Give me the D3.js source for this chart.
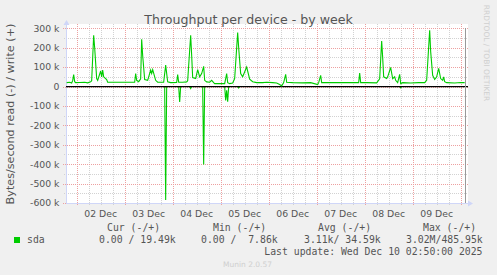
<!DOCTYPE html>
<html>
<head>
<meta charset="utf-8">
<script src="https://cdn.jsdelivr.net/npm/d3@7"></script>
<style>
  html, body { margin: 0; padding: 0; background: #f0f0f0; }
  svg { display: block; }
</style>
</head>
<body>
<div id="chart"></div>
<script>
// hours since 2025-12-01 19:00 UTC, values in kB/s
const writeHours = [0, 1.5, 2.5, 3, 3.5, 4, 4.5, 6.5, 9, 10.5, 12, 12.5, 13.5, 14, 15, 15.5, 17, 17.5, 18, 18.5,
  20, 20.5, 23.5, 28, 34, 34.5, 35, 36, 37, 37.5, 38, 39, 40.5, 42, 42.5, 43, 44.5, 45.5, 48.5, 49.5,
  50.5, 52, 55, 55.5, 56, 58, 60, 60.5, 62, 62.5, 63, 64.5, 65.5, 66.5, 67.5, 68.5, 69, 70, 71.5, 72.5,
  73.5, 74, 79, 80, 80.5, 81.5, 83, 84, 85.5, 86, 87, 88, 90, 91.5, 93, 95, 98, 100, 103, 105,
  106.5, 107.5, 108.5, 109.5, 110, 113, 118, 122, 125.5, 126, 127, 127.5, 131, 135, 140, 146, 146.5, 147, 150, 155,
  156.5, 157.5, 158, 158.5, 160, 160.5, 162, 163, 164, 164.5, 165.5, 166.5, 167, 168, 172, 176, 179, 180, 181.5, 182,
  183, 184, 185, 186, 187, 188, 188.5, 189, 190, 194, 197, 199];
const writeKB = [20, 22, 18, 30, 62, 25, 20, 21, 22, 19, 24, 30, 264, 200, 41, 32, 80, 50, 85, 50,
  36, 22, 22, 22, 22, 67, 32, 25, 40, 244, 160, 36, 32, 85, 67, 87, 32, 22, 22, 110,
  24, 20, 21, 62, 22, 22, 24, 30, 264, 160, 46, 41, 87, 50, 67, 104, 32, 24, 22, 32,
  20, 15, 15, 67, 20, 15, 18, 41, 278, 200, 67, 50, 100, 38, 25, 20, 20, 22, 20, 18,
  10, 3, 20, 63, 22, 20, 19, 20, 10, 20, 58, 20, 20, 20, 21, 20, 70, 20, 20, 19,
  40, 235, 150, 50, 41, 50, 98, 41, 50, 32, 20, 63, 15, 20, 18, 20, 20, 32, 290, 180,
  58, 36, 50, 93, 41, 32, 50, 25, 20, 18, 21, 20];

const readHours = [0, 49, 49.5, 50, 56, 56.5, 57, 61.5, 62, 62.5, 68, 68.5, 69, 79, 79.5, 80, 80.5, 81,
  85.5, 86, 86.5, 166.5, 167, 167.5, 199];
const readKB = [0, 0, -585, 0, 0, -79, 0, 0, -10, 0, 0, -401, 0, 0, -72, -20, -78, 0,
  0, -8, 0, 0, -7, 0, 0];

const yTicks = [300, 200, 100, 0, -100, -200, -300, -400, -500, -600];
const dayLabels = ["02 Dec", "03 Dec", "04 Dec", "05 Dec", "06 Dec", "07 Dec", "08 Dec", "09 Dec"];
const legendHeads = ["Cur (-/+)", "Min (-/+)", "Avg (-/+)", "Max (-/+)"];
const legendVals = ["0.00 / 19.49k", "0.00 /  7.86k", "3.11k/ 34.59k", "3.02M/485.95k"];

const W = 497, H = 275;
const sans = "'DejaVu Sans', sans-serif";
const mono = "'DejaVu Sans Mono', monospace";
const t0 = Date.UTC(2025, 11, 1, 19, 0);
const hr = 3600 * 1000;

const x = d3.scaleUtc()
  .domain([new Date(Date.UTC(2025, 11, 1, 18, 40)), new Date(Date.UTC(2025, 11, 10, 3, 40))])
  .range([66, 468]);
const y = d3.scaleLinear().domain([-600, 300]).range([203, 28.3]);

const svg = d3.select("#chart").append("svg")
  .attr("width", W).attr("height", H)
  .style("background", "#f0f0f0");

// canvas
svg.append("rect").attr("x", 66).attr("y", 24).attr("width", 402).attr("height", 179).attr("fill", "#fff");

const grid = svg.append("g").attr("shape-rendering", "crispEdges");
const [d0, d1] = x.domain();

// minor grid
d3.utcHour.every(6).range(d0, d1).forEach(t => {
  if (t.getUTCHours() === 0) return;
  const px = Math.round(x(t)) + 0.5;
  grid.append("line").attr("x1", px).attr("x2", px).attr("y1", 24).attr("y2", 205)
    .attr("stroke", "#d2d2d2").attr("stroke-dasharray", "1,1");
});
d3.range(-550, 300, 100).forEach(v => {
  const py = Math.round(y(v)) + 0.5;
  grid.append("line").attr("x1", 64).attr("x2", 468).attr("y1", py).attr("y2", py)
    .attr("stroke", "#d2d2d2").attr("stroke-dasharray", "1,1");
});
// major grid
d3.utcDay.range(d0, d1).forEach(t => {
  const px = Math.round(x(t)) + 0.5;
  grid.append("line").attr("x1", px).attr("x2", px).attr("y1", 24).attr("y2", 206)
    .attr("stroke", "#eda0a0").attr("stroke-dasharray", "1,1");
});
yTicks.forEach(v => {
  const py = Math.round(y(v)) + 0.5;
  grid.append("line").attr("x1", 63).attr("x2", 468).attr("y1", py).attr("y2", py)
    .attr("stroke", "#eda0a0").attr("stroke-dasharray", "1,1");
});

// axes
const axisCol = "#cfd6f8";
grid.append("line").attr("x1", 66.5).attr("x2", 66.5).attr("y1", 203).attr("y2", 24).attr("stroke", axisCol);
grid.append("line").attr("x1", 66).attr("x2", 469).attr("y1", 203.5).attr("y2", 203.5).attr("stroke", axisCol);
svg.append("path").attr("d", "M63.5,25L69.5,25L66.5,20Z").attr("fill", axisCol);
svg.append("path").attr("d", "M468,200.5L468,206.5L473,203.5Z").attr("fill", axisCol);

// data lines
const line = d3.line().x(d => x(new Date(t0 + d[0] * hr))).y(d => y(d[1]));
const readPts = readHours.map((h, i) => [h, readKB[i]]);
const writePts = writeHours.map((h, i) => [h, writeKB[i]]);
svg.append("path").attr("d", line(readPts)).attr("fill", "none").attr("stroke", "#00cc00").attr("stroke-width", 1.1);
svg.append("line").attr("x1", 66).attr("x2", 468).attr("y1", y(0)).attr("y2", y(0))
  .attr("stroke", "#000").attr("stroke-width", 1.2);
svg.append("path").attr("d", line(writePts)).attr("fill", "none").attr("stroke", "#00cc00").attr("stroke-width", 1.1);

// right edge marker
const lastX = Math.round(x(new Date(t0 + writeHours[writeHours.length - 1] * hr))) + 0.5;
svg.append("line").attr("x1", lastX).attr("x2", lastX).attr("y1", 28).attr("y2", 203)
  .attr("stroke", "#999").attr("shape-rendering", "crispEdges");

// y labels
svg.append("g").selectAll("text").data(yTicks).join("text")
  .attr("x", 59.5).attr("y", d => y(d)).attr("dy", "0.36em")
  .attr("text-anchor", "end").attr("font-family", sans).attr("font-size", 9.3).attr("fill", "#555")
  .text(d => d === 0 ? "0" : d + " k");

// x labels at noon
const noon = d3.utcDay.range(d0, d1).map(t => new Date(+t + 12 * hr));
svg.append("g").selectAll("text").data(noon).join("text")
  .attr("x", d => x(d)).attr("y", 217)
  .attr("text-anchor", "middle").attr("font-family", sans).attr("font-size", 9.3).attr("fill", "#555")
  .text((d, i) => dayLabels[i]);

// title and axis title
svg.append("text").attr("x", 248.5).attr("y", 24).attr("text-anchor", "middle")
  .attr("font-family", sans).attr("font-size", 12.6).attr("fill", "#555")
  .text("Throughput per device - by week");
svg.append("text").attr("transform", "translate(14,114) rotate(-90)").attr("text-anchor", "middle")
  .attr("font-family", sans).attr("font-size", 11.2).attr("fill", "#555")
  .text("Bytes/second read (-) / write (+)");
svg.append("text").attr("transform", "translate(484,53) rotate(90)").attr("text-anchor", "middle")
  .attr("font-family", sans).attr("font-size", 7.5).attr("fill", "#cfcfcf")
  .text("RRDTOOL / TOBI OETIKER");

// legend
svg.append("rect").attr("x", 14).attr("y", 237).attr("width", 6).attr("height", 6).attr("fill", "#00cc00");
const leg = svg.append("g").attr("font-family", mono).attr("font-size", 9.8).attr("fill", "#555");
const legText = (px, py, s) => leg.append("text").attr("x", px).attr("y", py)
  .attr("xml:space", "preserve").style("white-space", "pre").text(s);
legText(27, 243, "sda");
const headX = [107, 213, 318, 423];
const valX = [99, 201, 304, 406];
legendHeads.forEach((s, i) => legText(headX[i], 230.5, s));
legendVals.forEach((s, i) => legText(valX[i], 243, s));
legText(482.5, 254.5, "Last update: Wed Dec 10 02:50:00 2025").attr("text-anchor", "end");
svg.append("text").attr("x", 247.5).attr("y", 267).attr("text-anchor", "middle")
  .attr("font-family", sans).attr("font-size", 7.5).attr("fill", "#cfcfcf")
  .text("Munin 2.0.57");
</script>
</body>
</html>
